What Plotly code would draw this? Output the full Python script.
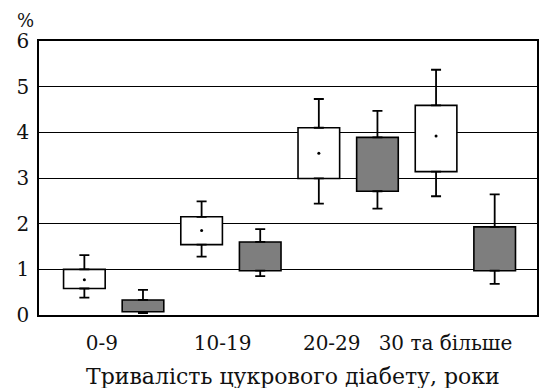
import plotly.graph_objects as go

categories = ["0-9", "10-19", "20-29", "30 та більше"]
y_ticks = [0, 1, 2, 3, 4, 5, 6]

# white boxes (series A)
a_low = [0.38, 1.28, 2.44, 2.60]
a_q1 = [0.58, 1.54, 2.99, 3.14]
a_q3 = [1.00, 2.15, 4.10, 4.59]
a_high = [1.31, 2.49, 4.73, 5.37]
a_mean = [0.77, 1.85, 3.54, 3.92]

# grey boxes (series B)
b_low = [0.04, 0.85, 2.33, 0.68]
b_q1 = [0.07, 0.97, 2.71, 0.97]
b_q3 = [0.33, 1.60, 3.89, 1.93]
b_high = [0.55, 1.88, 4.47, 2.64]

FONT = "DejaVu Serif"
TXT = "#111111"
idx = list(range(len(categories)))
off = 0.25
bw = 0.355
pos_a = [i - off for i in idx]
pos_b = [i + off for i in idx]

fig = go.Figure()

def add_series(pos, low, q1, q3, high, fill):
    fig.add_trace(go.Bar(
        x=pos, y=[t - b for t, b in zip(q3, q1)], base=q1, width=bw,
        marker=dict(color=fill, line=dict(color="black", width=1.6)),
        showlegend=False, hoverinfo="skip"))
    fig.add_trace(go.Scatter(
        x=pos, y=q3, mode="markers", marker=dict(opacity=0, size=1),
        error_y=dict(type="data", symmetric=False,
                     array=[h - t for h, t in zip(high, q3)],
                     arrayminus=[0] * len(q3),
                     color="black", thickness=1.8, width=5),
        showlegend=False, hoverinfo="skip"))
    fig.add_trace(go.Scatter(
        x=pos, y=q1, mode="markers", marker=dict(opacity=0, size=1),
        error_y=dict(type="data", symmetric=False,
                     array=[0] * len(q1),
                     arrayminus=[b - l for b, l in zip(q1, low)],
                     color="black", thickness=1.8, width=5),
        showlegend=False, hoverinfo="skip"))

add_series(pos_a, a_low, a_q1, a_q3, a_high, "white")
add_series(pos_b, b_low, b_q1, b_q3, b_high, "#7e7e7e")

fig.add_trace(go.Scatter(
    x=pos_a, y=a_mean, mode="markers",
    marker=dict(color="black", size=3),
    showlegend=False, hoverinfo="skip"))

tick_shift = [-0.10, -0.07, -0.14, -0.17]
fig.update_layout(
    width=540, height=388,
    margin=dict(l=39, r=1, t=41, b=73),
    paper_bgcolor="white", plot_bgcolor="white",
    barmode="overlay",
    font=dict(family=FONT, color=TXT, size=19),
    xaxis=dict(range=[-0.637, 3.611], showgrid=False, zeroline=False,
               showline=True, mirror=True, linecolor="black", linewidth=1.6,
               tickvals=[i + s for i, s in zip(idx, tick_shift)],
               ticktext=categories, ticks="", ticklabelstandoff=9,
               tickfont=dict(family=FONT, size=20, color=TXT)),
    yaxis=dict(range=[0, 6], tickvals=y_ticks, showgrid=True,
               gridcolor="black", gridwidth=1.4, zeroline=False,
               showline=True, mirror=True, linecolor="black", linewidth=1.6,
               ticks="", ticklabelstandoff=4,
               tickfont=dict(family=FONT, size=20, color=TXT)),
    annotations=[
        dict(text="%", xref="paper", yref="paper", x=-0.027, y=1.074,
             xanchor="center", yanchor="middle", showarrow=False,
             font=dict(family=FONT, size=18, color=TXT)),
        dict(text="Тривалість цукрового діабету, роки", xref="paper",
             yref="paper", x=0.51, y=-0.172, xanchor="center",
             yanchor="top", showarrow=False,
             font=dict(family=FONT, size=22, color=TXT)),
    ],
)

fig.write_html("out.html")
